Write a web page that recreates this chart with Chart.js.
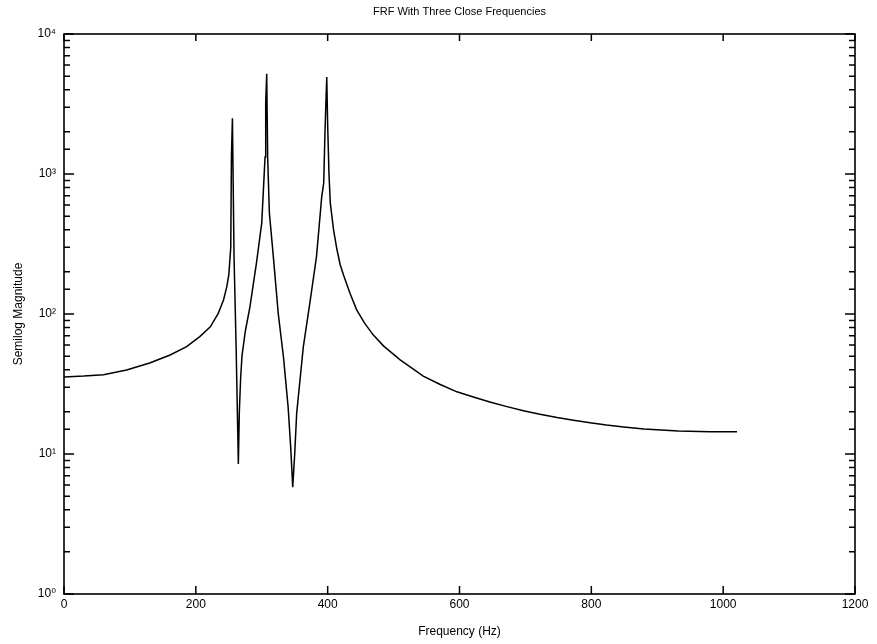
<!DOCTYPE html>
<html>
<head>
<meta charset="utf-8">
<script src="https://cdn.jsdelivr.net/npm/chart.js@4.4.1/dist/chart.umd.min.js"></script>
<style>
  html, body { margin: 0; padding: 0; background: #fff; }
  #wrap { width: 877px; height: 644px; position: relative; }
</style>
</head>
<body>
<div id="wrap"><canvas id="frf"></canvas></div>
<script>
// ── data ────────────────────────────────────────────────────────────────────
var freqHz = [
  0, 30, 60, 95, 130, 161, 186, 206, 222, 234, 242, 247, 250, 253, 254,
  255.5, 258, 261, 263, 264.5, 266, 268, 270, 275, 282, 292, 300, 305, 306,
  307.5, 309, 311.6, 317.6, 325, 333, 340, 344, 347, 350, 353, 363, 373, 383,
  391, 394, 396, 398.6, 400, 402, 404, 409, 414, 419, 424, 434, 444, 456, 469,
  485, 510, 545, 570, 596, 621, 646, 672, 697, 722, 748, 773, 798, 823, 849,
  880, 932, 980, 1021
];
var magnitude = [
  35.5, 36, 36.8, 39.8, 44.7, 51, 58.4, 69, 81, 101, 126, 157, 190, 300, 1320,
  2500, 250, 62, 20, 8.5, 20, 35, 50, 75, 112, 232, 448, 1320, 3200,
  5200, 1300, 525, 256, 101, 49, 21.7, 11, 5.8, 10, 19.6, 58, 120, 256,
  690, 860, 2050, 4930, 2240, 1000, 620, 398, 290, 225, 190, 140, 107, 86, 71,
  59, 47, 36, 31.5, 27.8, 25.5, 23.5, 21.8, 20.4, 19.2, 18.2, 17.4, 16.7, 16.1, 15.6,
  15.1, 14.6, 14.4, 14.4
];
var xTickValues = [0, 200, 400, 600, 800, 1000, 1200];
var yDecades = [1, 10, 100, 1000, 10000];
var yTickLabels = ['10\u2070', '10\u00b9', '10\u00b2', '10\u00b3', '10\u2074'];
var titleText = 'FRF With Three Close Frequencies';
var xTitle = 'Frequency (Hz)';
var yTitle = 'Semilog Magnitude';

var FONT = "'Liberation Sans', 'DejaVu Sans', Arial, sans-serif";

// frame, inward tick marks on all four sides, and the title above the plot
var frameTicks = {
  id: 'frameTicks',
  afterDraw: function(chart) {
    var ctx = chart.ctx, a = chart.chartArea;
    var xs = chart.scales.x, ys = chart.scales.y;
    ctx.save();
    ctx.strokeStyle = '#000';
    ctx.lineWidth = 1.6;
    ctx.strokeRect(a.left, a.top, a.right - a.left, a.bottom - a.top);

    ctx.lineWidth = 1.5;
    ctx.beginPath();
    ys.ticks.forEach(function(t) {
      var py = ys.getPixelForValue(t.value);
      var major = yDecades.indexOf(t.value) >= 0;
      var len = major ? 10 : 6;
      ctx.moveTo(a.left, py); ctx.lineTo(a.left + len, py);
      ctx.moveTo(a.right, py); ctx.lineTo(a.right - len, py);
    });
    xTickValues.forEach(function(v) {
      var px = xs.getPixelForValue(v);
      ctx.moveTo(px, a.bottom); ctx.lineTo(px, a.bottom - 8);
      ctx.moveTo(px, a.top); ctx.lineTo(px, a.top + 7);
    });
    ctx.stroke();

    ctx.fillStyle = '#000';
    ctx.font = '11px ' + FONT;
    ctx.textAlign = 'center';
    ctx.textBaseline = 'middle';
    ctx.fillText(titleText, (a.left + a.right) / 2, 12);
    ctx.restore();
  }
};

new Chart(document.getElementById('frf'), {
  type: 'line',
  data: {
    datasets: [{
      label: 'FRF',
      data: freqHz.map(function(f, i) { return { x: f, y: magnitude[i] }; }),
      borderColor: '#000',
      borderWidth: 1.5,
      pointRadius: 0,
      fill: false,
      tension: 0
    }]
  },
  options: {
    responsive: true,
    maintainAspectRatio: false,
    animation: false,
    layout: { padding: { top: 34, right: 22, left: 0, bottom: 0 } },
    plugins: {
      legend: { display: false },
      tooltip: { enabled: false },
      title: { display: false }
    },
    scales: {
      x: {
        type: 'linear',
        min: 0,
        max: 1200,
        afterBuildTicks: function(s) { s.ticks = xTickValues.map(function(v) { return { value: v }; }); },
        afterFit: function(s) { s.height = 50; },
        grid: { display: false, drawTicks: false },
        border: { display: false },
        ticks: {
          color: '#000', padding: 3, maxRotation: 0, font: { family: FONT, size: 12 },
          callback: function(v) { return String(v); }
        },
        title: { display: true, text: xTitle, color: '#000', padding: { top: 6, bottom: 5 }, font: { family: FONT, size: 12 } }
      },
      y: {
        type: 'logarithmic',
        min: 1,
        max: 10000,
        afterFit: function(s) { s.width = 64; },
        grid: { display: false, drawTicks: false },
        border: { display: false },
        ticks: {
          color: '#000',
          padding: 8,
          autoSkip: false,
          font: { family: FONT, size: 12 },
          callback: function(v) {
            var i = yDecades.indexOf(v);
            return i >= 0 ? yTickLabels[i] : '';
          }
        },
        title: { display: true, text: yTitle, color: '#000', padding: { top: 11, bottom: 6 }, font: { family: FONT, size: 12 } }
      }
    }
  },
  plugins: [frameTicks]
});
</script>
</body>
</html>
